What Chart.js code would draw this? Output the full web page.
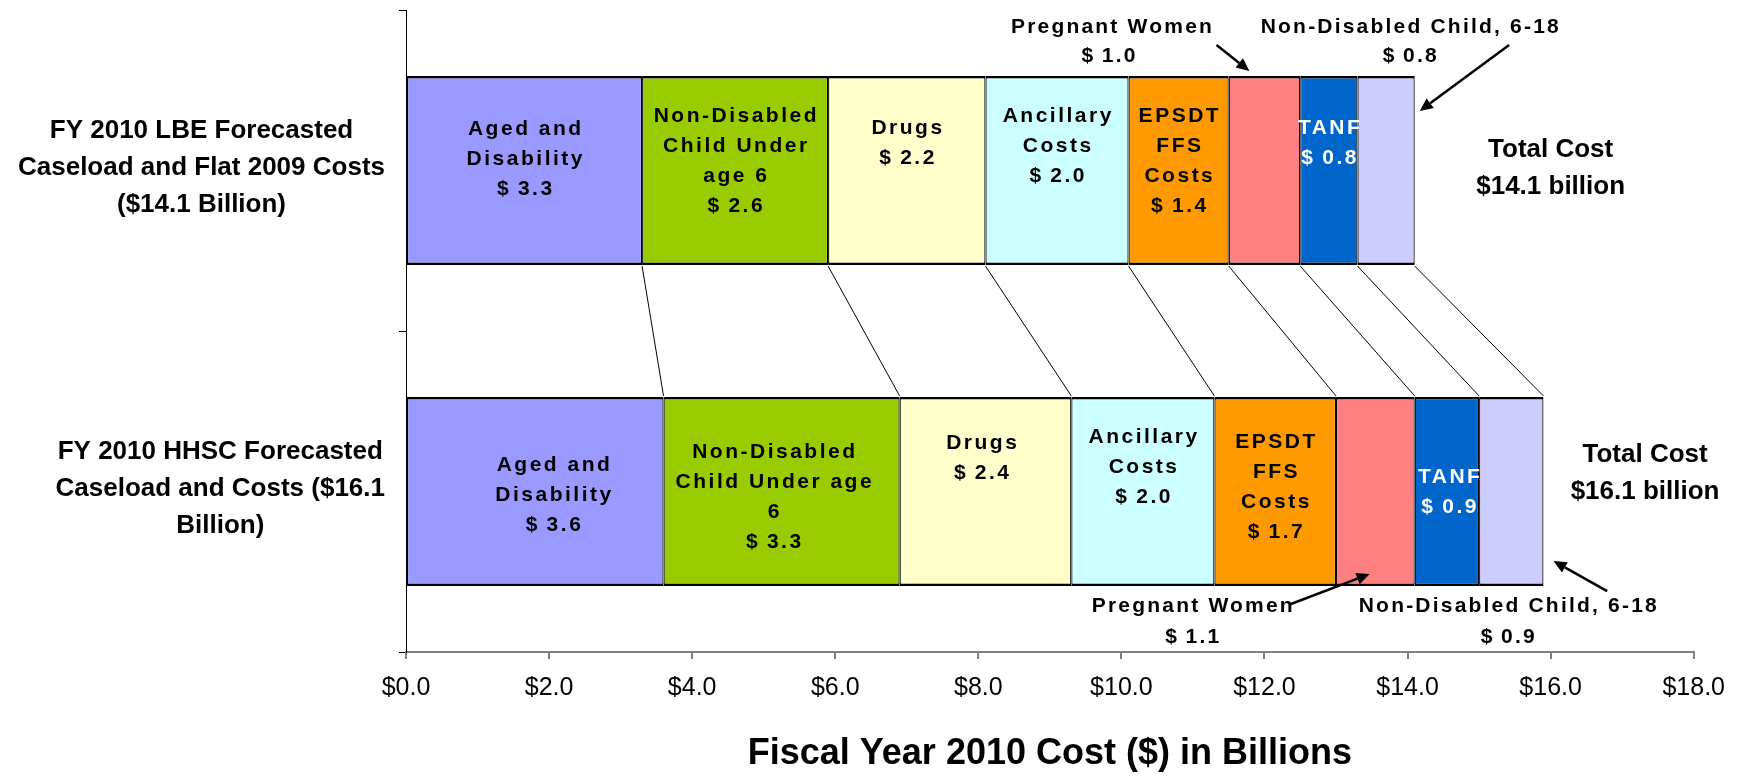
<!DOCTYPE html>
<html><head><meta charset="utf-8">
<script src="https://cdn.jsdelivr.net/npm/chart.js@4"></script>
<style>html,body{margin:0;padding:0;background:#fff}#c{display:block}</style>
</head><body>
<canvas id="c" width="1739" height="776"></canvas>
<script>
// ---------- data ----------
const categories = [
  ["FY 2010 LBE Forecasted", "Caseload and Flat 2009 Costs", "($14.1 Billion)"],
  ["FY 2010 HHSC Forecasted", "Caseload and Costs ($16.1", "Billion)"]
];
const segmentNames = ["Aged and Disability", "Non-Disabled Child Under age 6", "Drugs", "Ancillary Costs",
  "EPSDT FFS Costs", "Pregnant Women", "TANF", "Non-Disabled Child, 6-18"];
const lbeValues  = [3.3, 2.6, 2.2, 2.0, 1.4, 1.0, 0.8, 0.8];
const hhscValues = [3.6, 3.3, 2.4, 2.0, 1.7, 1.1, 0.9, 0.9];
const totals = [14.1, 16.1];
const xTickValues = [0, 2, 4, 6, 8, 10, 12, 14, 16, 18];
const xTitle = "Fiscal Year 2010 Cost ($) in Billions";
const labelLinesLBE = [["Aged and", "Disability"], ["Non-Disabled", "Child Under", "age 6"], ["Drugs"],
  ["Ancillary", "Costs"], ["EPSDT", "FFS", "Costs"], null, ["TANF"], null];
const labelLinesHHSC = [["Aged and", "Disability"], ["Non-Disabled", "Child Under age", "6"], ["Drugs"],
  ["Ancillary", "Costs"], ["EPSDT", "FFS", "Costs"], null, ["TANF"], null];

// ---------- styles / layout ----------
const segmentColors = ["#9999FF", "#99CC00", "#FFFFCC", "#CCFFFF", "#FF9900", "#FF8080", "#0066CC", "#CCCCFF"];
const labelColors = ["#000", "#000", "#000", "#000", "#000", "#000", "#fff", "#000"];
const FAM = '"Liberation Sans", Arial, Helvetica, sans-serif';
const labelShift = [
  [[0,-11.5],[0,-9],[0,-27],[0,-24],[0,-9.5],null,[0,-27],null],
  [[18,3.5],[-8,6],[-4,-33.5],[0,-24.5],[0,-4.5],null,[2,0.5],null]
];
const noteLayout = [
  {cat:0, seg:5, textX:9.86, valX:9.82, edge:'top', textDy:-49, valDy:-20, arrow:[11.33,-31,11.79,-5]},
  {cat:0, seg:7, textX:14.03, valX:14.03, edge:'top', textDy:-49, valDy:-20, arrow:[15.42,-31,14.17,35]},
  {cat:1, seg:5, textX:10.99, valX:10.99, edge:'bottom', textDy:20, valDy:51, arrow:[12.37,18,13.47,-12]},
  {cat:1, seg:7, textX:15.40, valX:15.40, edge:'bottom', textDy:20, valDy:51, arrow:[16.79,5,16.04,-25]}
];
const totalLayout = [{x:16.0, dy1:-20.5, dy2:16.5}, {x:17.32, dy1:-36.5, dy2:0.5}];
const money = v => '$\u2009' + v.toFixed(1);

function txt(ctx, s, x, y, font, color, spacing, align) {
  ctx.save();
  ctx.font = font; ctx.fillStyle = color;
  ctx.textAlign = align || 'center'; ctx.textBaseline = 'middle';
  let dx = 0;
  if (spacing) { ctx.letterSpacing = spacing + 'px'; if ((align || 'center') === 'center') dx = spacing / 2; }
  ctx.fillText(s, x + dx, y);
  ctx.restore();
}
function arrow(ctx, x1, y1, x2, y2) {
  ctx.save();
  ctx.strokeStyle = '#000'; ctx.fillStyle = '#000'; ctx.lineWidth = 2.5;
  const a = Math.atan2(y2 - y1, x2 - x1), L = 13, W = 6;
  const bx = x2 - L * Math.cos(a), by = y2 - L * Math.sin(a);
  ctx.beginPath(); ctx.moveTo(x1, y1); ctx.lineTo(bx, by); ctx.stroke();
  ctx.beginPath(); ctx.moveTo(x2, y2);
  ctx.lineTo(bx + W * Math.sin(a), by - W * Math.cos(a));
  ctx.lineTo(bx - W * Math.sin(a), by + W * Math.cos(a));
  ctx.closePath(); ctx.fill();
  ctx.restore();
}

const annot = {
  id: 'annot',
  afterDatasetsDraw(chart) {
    const ctx = chart.ctx, xs = chart.scales.x, ys = chart.scales.y;
    const valueSets = [lbeValues, hhscValues];
    const lineSets = [labelLinesLBE, labelLinesHHSC];
    // series lines between the bars
    ctx.save(); ctx.strokeStyle = '#000'; ctx.lineWidth = 1;
    for (let i = 0; i < segmentNames.length; i++) {
      const m = chart.getDatasetMeta(i);
      const a = m.data[0], b = m.data[1];
      ctx.beginPath();
      ctx.moveTo(a.x, a.y + a.height / 2 + 1);
      ctx.lineTo(b.x, b.y - b.height / 2 - 1);
      ctx.stroke();
    }
    ctx.restore();
    // inside labels
    const f = 'bold 21px ' + FAM;
    for (let i = 0; i < segmentNames.length; i++) {
      const m = chart.getDatasetMeta(i);
      for (let c = 0; c < 2; c++) {
        const lines = lineSets[c][i];
        if (!lines) continue;
        const all = lines.concat([money(valueSets[c][i])]);
        const el = m.data[c];
        const sh = labelShift[c][i];
        const cx = (el.x + el.base) / 2 + sh[0];
        const cy = el.y + sh[1];
        const lh = 30;
        all.forEach((s, k) => txt(ctx, s, cx, cy + (k - (all.length - 1) / 2) * lh, f, labelColors[i], 2.5));
      }
    }
    // outside notes with arrows
    noteLayout.forEach(n => {
      const el = chart.getDatasetMeta(n.seg).data[n.cat];
      const edgeY = n.edge === 'top' ? el.y - el.height / 2 : el.y + el.height / 2;
      txt(ctx, segmentNames[n.seg], xs.getPixelForValue(n.textX), edgeY + n.textDy, f, '#000', 2.2);
      txt(ctx, money(valueSets[n.cat][n.seg]), xs.getPixelForValue(n.valX), edgeY + n.valDy, f, '#000', 2.2);
      arrow(ctx, xs.getPixelForValue(n.arrow[0]), edgeY + n.arrow[1], xs.getPixelForValue(n.arrow[2]), edgeY + n.arrow[3]);
    });
    // total cost
    const tf = 'bold 26px ' + FAM;
    totals.forEach((t, c) => {
      const cy = ys.getPixelForValue(c), L = totalLayout[c];
      const x = xs.getPixelForValue(L.x);
      txt(ctx, 'Total Cost', x, cy + L.dy1, tf, '#000');
      txt(ctx, '$' + t.toFixed(1) + ' billion', x, cy + L.dy2, tf, '#000');
    });
    // category labels
    ctx.save(); ctx.font = tf;
    categories.forEach((lines, c) => {
      const w = Math.max(...lines.map(s => ctx.measureText(s).width));
      const cx = 385 - w / 2, cy = ys.getPixelForValue(c) - 2.5;
      lines.forEach((s, k) => txt(ctx, s, cx, cy + (k - (lines.length - 1) / 2) * 37, tf, '#000'));
    });
    ctx.restore();
  }
};

new Chart(document.getElementById('c').getContext('2d'), {
  type: 'bar',
  data: {
    labels: categories.map(l => l.join(' ')),
    datasets: segmentNames.map((n, i) => ({
      label: n,
      data: [lbeValues[i], hhscValues[i]],
      backgroundColor: segmentColors[i],
      borderColor: '#000',
      borderWidth: {top: 2.5, bottom: 2.5, left: 1.2, right: 1.2},
      borderSkipped: false,
      barPercentage: 0.589,
      categoryPercentage: 1
    }))
  },
  options: {
    indexAxis: 'y',
    responsive: false,
    animation: false,
    devicePixelRatio: 1,
    layout: {padding: {top: 10, right: 42, bottom: 0, left: 0}},
    plugins: {legend: {display: false}, tooltip: {enabled: false}, title: {display: false}},
    scales: {
      x: {
        stacked: true, min: 0, max: 18,
        afterBuildTicks(s) { s.ticks = xTickValues.map(v => ({value: v})); },
        ticks: {callback: v => '$' + Number(v).toFixed(1), font: {family: FAM, size: 25}, color: '#000',
                padding: 14, maxRotation: 0, autoSkip: false},
        grid: {drawOnChartArea: false, drawTicks: true, tickLength: 7, color: '#808080', lineWidth: 2},
        border: {display: true, color: '#808080', width: 2},
        title: {display: true, text: xTitle, font: {family: FAM, size: 36, weight: 'bold'}, color: '#000', padding: 0},
        afterFit(s) { s.height = 124; }
      },
      y: {
        stacked: true,
        ticks: {display: false},
        grid: {drawOnChartArea: false, drawTicks: true, tickLength: 7, color: '#000', lineWidth: 1, offset: true},
        border: {display: true, color: '#000', width: 1},
        afterFit(s) { s.width = 406; }
      }
    }
  },
  plugins: [annot]
});
</script>
</body></html>
